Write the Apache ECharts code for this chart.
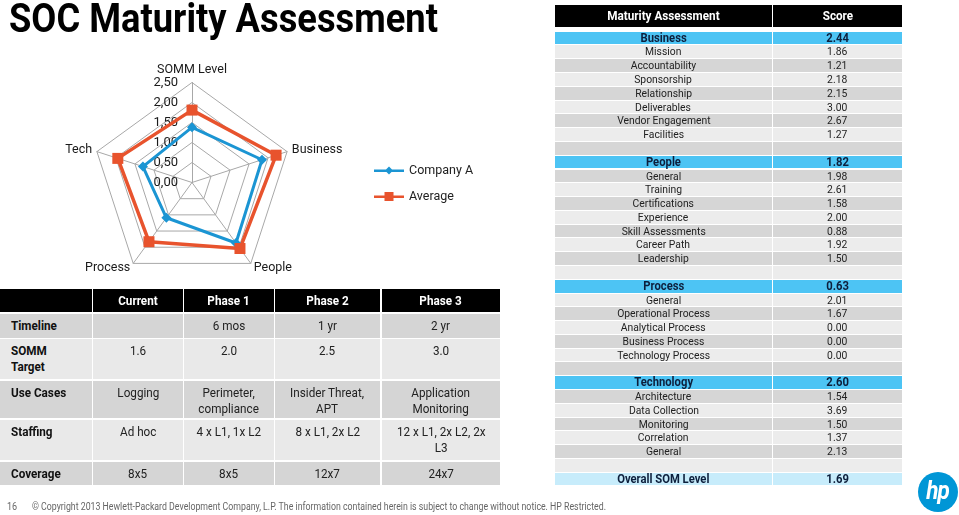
<!DOCTYPE html>
<html><head><meta charset="utf-8">
<script src="https://cdn.jsdelivr.net/npm/echarts@6/dist/echarts.min.js"></script>
<style>
html,body{margin:0;padding:0;background:#fff;}
body{width:959px;height:515px;position:relative;overflow:hidden;font-family:Roboto,'Open Sans',sans-serif;}
#chart{position:absolute;left:0;top:0;width:959px;height:515px;}
.c{position:absolute;box-sizing:border-box;text-align:center;color:#1a1a1a;}
.c span{display:inline-block;white-space:pre-line;transform:scaleX(0.9);transform-origin:50% 50%;}
.c.l span{transform-origin:0 50%;}
</style></head><body>
<div id="chart"></div>
<div id="ov"></div>
<script>
// ---- radar data ----
const radarAxes = ['SOMM Level', 'Tech', 'Process', 'People', 'Business'];
const companyA  = [1.38, 1.29, 1.09, 1.87, 1.84];
const average   = [1.81, 1.95, 1.83, 2.04, 2.21];
const radarMax = 2.5;
const seriesNames = ['Company A', 'Average'];

// ---- left table ----
const phaseHeaders = ['Current', 'Phase 1', 'Phase 2', 'Phase 3'];
const rowLabels = ['Timeline', 'SOMM\nTarget', 'Use Cases', 'Staffing', 'Coverage'];
const timeline = ['', '6 mos', '1 yr', '2 yr'];
const sommTarget = ['1.6', '2.0', '2.5', '3.0'];
const useCases = ['Logging', 'Perimeter,\ncompliance', 'Insider Threat,\nAPT', 'Application\nMonitoring'];
const staffing = ['Ad hoc', '4 x L1, 1x L2', '8 x L1, 2x L2', '12 x L1, 2x L2, 2x\nL3'];
const coverage = ['8x5', '8x5', '12x7', '24x7'];

// ---- right table ----
const groupNames = ['Business', 'People', 'Process', 'Technology'];
const groupScores = ['2.44', '1.82', '0.63', '2.60'];
const businessItems = ['Mission', 'Accountability', 'Sponsorship', 'Relationship', 'Deliverables', 'Vendor Engagement', 'Facilities'];
const businessScores = ['1.86', '1.21', '2.18', '2.15', '3.00', '2.67', '1.27'];
const peopleItems = ['General', 'Training', 'Certifications', 'Experience', 'Skill Assessments', 'Career Path', 'Leadership'];
const peopleScores = ['1.98', '2.61', '1.58', '2.00', '0.88', '1.92', '1.50'];
const processItems = ['General', 'Operational Process', 'Analytical Process', 'Business Process', 'Technology Process'];
const processScores = ['2.01', '1.67', '0.00', '0.00', '0.00'];
const technologyItems = ['Architecture', 'Data Collection', 'Monitoring', 'Correlation', 'General'];
const technologyScores = ['1.54', '3.69', '1.50', '1.37', '2.13'];
const overallLabel = 'Overall SOM Level';
const overallScore = '1.69';

const FF = "Roboto,'Open Sans',sans-serif";
const BLUE = '#1b95d3', RED = '#e8532d';

const chart = echarts.init(document.getElementById('chart'));
chart.setOption({
  animation: false,
  legend: {
    orient: 'vertical', left: 369, top: 159, itemWidth: 30, itemHeight: 10, itemGap: 13,
    textStyle: { fontSize: 12.5, color: '#222', fontFamily: FF },
    data: [
      { name: seriesNames[0], icon: 'path://M0 4H30V6.4H0Z M11 5L15 1L19 5L15 9Z' },
      { name: seriesNames[1], icon: 'path://M0 4H30V6.4H0Z M10.5 0.5H19.5V9.5H10.5Z' }
    ]
  },
  radar: {
    center: [192, 182.5], radius: 100, startAngle: 90, shape: 'polygon', splitNumber: 5,
    nameGap: 5,
    axisName: { color: '#1a1a1a', fontSize: 12.5, fontFamily: FF },
    splitLine: { lineStyle: { color: '#a8a8a8', width: 1 } },
    splitArea: { show: false },
    axisLine: { lineStyle: { color: '#a8a8a8', width: 1 } },
    axisTick: { show: false },
    axisLabel: { show: false },
    indicator: radarAxes.map((n, i) => Object.assign({ name: n, min: 0, max: radarMax },
      i === 0 ? { axisLabel: { show: true, color: '#1a1a1a', fontSize: 13, fontFamily: FF, margin: 14,
        formatter: v => Number(v).toFixed(2).replace('.', ',') } } : {}))
  },
  series: [{
    type: 'radar',
    data: [
      { name: seriesNames[0], value: companyA, symbol: 'diamond', symbolSize: 10,
        itemStyle: { color: BLUE }, lineStyle: { color: BLUE, width: 3 } },
      { name: seriesNames[1], value: average, symbol: 'rect', symbolSize: 11,
        itemStyle: { color: RED }, lineStyle: { color: RED, width: 3.5 } }
    ]
  }]
});

// ---- overlay text / tables ----
const ov = document.getElementById('ov');
function cell(x, y, w, h, txt, css, cls) {
  const d = document.createElement('div');
  d.className = 'c' + (cls ? ' ' + cls : '');
  d.style.cssText += `left:${x}px;top:${y}px;width:${w}px;height:${h}px;` + (css || '');
  const s = document.createElement('span');
  s.textContent = txt;
  d.appendChild(s);
  ov.appendChild(d);
  return s;
}
function fitWidth(span, target) {
  span.style.transform = 'none';
  const w = span.getBoundingClientRect().width;
  span.style.transform = `scaleX(${target / w})`;
}
// title
const tSpan = cell(9, -5, 600, 46, 'SOC Maturity Assessment',
  'font-size:41px;font-weight:bold;color:#000;text-align:left;line-height:46px;', 'l');
fitWidth(tSpan, 429);

// left table
const colX = [0, 93, 184, 275, 382], colW = [92, 90, 90, 105, 118];
const rowY = [314, 339, 381, 420, 462], rowH = [24, 40, 37, 40, 23];
const DARK = '#d5d5d5', LIGHT = '#e9e9e9';
cell(colX[0], 289, colW[0], 23, '', 'background:#000;');
phaseHeaders.forEach((t, i) => cell(colX[i + 1], 289, colW[i + 1], 23, t,
  'background:#000;color:#fff;font-weight:bold;font-size:13px;line-height:23px;'));
const tableRows = [timeline, sommTarget, useCases, staffing, coverage];
tableRows.forEach((vals, r) => {
  const bg = r % 2 === 0 ? DARK : LIGHT;
  cell(colX[0], rowY[r], colW[0], rowH[r], rowLabels[r],
    `background:${bg};text-align:left;padding:4px 0 0 11px;font-weight:bold;font-size:13px;line-height:16px;color:#111;`, 'l');
  vals.forEach((v, i) => cell(colX[i + 1], rowY[r], colW[i + 1], rowH[r], v,
    `background:${bg};padding:4px 0 0 0;font-size:13px;line-height:15.5px;color:#222;`));
});
// right table
const rx1 = 555, rw1 = 217, rx2 = 773, rw2 = 129, rTop = 31.7, rH = 13.78;
cell(rx1, 4.7, rw1, 22.6, 'Maturity Assessment', 'background:#000;color:#fff;font-weight:bold;font-size:13px;line-height:22.6px;');
cell(rx2, 4.7, rw2, 22.6, 'Score', 'background:#000;color:#fff;font-weight:bold;font-size:13px;line-height:22.6px;');
const groups = [[businessItems, businessScores], [peopleItems, peopleScores], [processItems, processScores], [technologyItems, technologyScores]];
let idx = 0;
function rrow(a, b, kind) {
  const y = rTop + idx * rH;
  let bg = idx % 2 === 1 ? '#ececec' : '#d6d6d6';
  let st = 'font-size:11.5px;color:#222;';
  if (kind === 'g') { bg = '#4dc4f4'; st = 'font-size:12.5px;font-weight:bold;color:#0d1f3c;'; }
  if (kind === 'o') { bg = '#c7ecfb'; st = 'font-size:12.5px;font-weight:bold;color:#0d1f3c;'; }
  const css = `background:${bg};line-height:${rH - 1}px;` + st;
  cell(rx1, y, rw1, rH - 1, a, css);
  cell(rx2, y, rw2, rH - 1, b, css);
  idx++;
}
groups.forEach((g, gi) => {
  rrow(groupNames[gi], groupScores[gi], 'g');
  g[0].forEach((n, k) => rrow(n, g[1][k], 'i'));
  rrow('', '', 'i');
});
rrow(overallLabel, overallScore, 'o');

// footer
cell(7, 500, 16, 14, '16', 'font-size:10px;color:#666;text-align:left;line-height:14px;', 'l');
const cSpan = cell(32, 500, 800, 14, '\u00A9 Copyright 2013 Hewlett-Packard Development Company, L.P. The information contained herein is subject to change without notice. HP Restricted.',
  'font-size:10px;color:#666;text-align:left;white-space:nowrap;line-height:14px;', 'l');
fitWidth(cSpan, 574);
// HP logo
cell(918, 472, 40, 40, 'hp', 'border-radius:50%;background:#0096d6;color:#fff;font-style:italic;font-weight:bold;font-size:25px;line-height:37px;letter-spacing:-1px;');
</script>
</body></html>
